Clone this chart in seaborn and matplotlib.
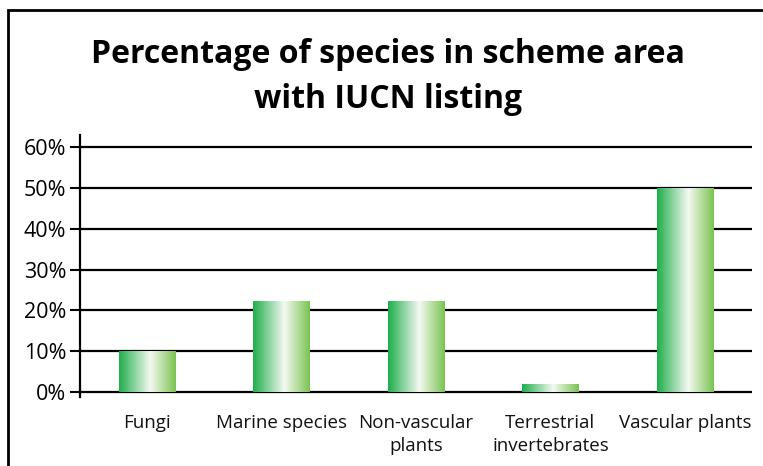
import numpy as np
import pandas as pd
import matplotlib
matplotlib.use("Agg")
import matplotlib.pyplot as plt
import seaborn as sns
from matplotlib.colors import LinearSegmentedColormap
from matplotlib.patches import Rectangle

categories = ["Fungi", "Marine species", "Non-vascular\nplants",
              "Terrestrial\ninvertebrates", "Vascular plants"]
values = [0.10, 0.223, 0.223, 0.02, 0.50]
yticks = [0.0, 0.1, 0.2, 0.3, 0.4, 0.5, 0.6]
ytick_labels = ["0%", "10%", "20%", "30%", "40%", "50%", "60%"]
title = "Percentage of species in scheme area\nwith IUCN listing"

sns.set_theme(style="white")
plt.rcParams["font.family"] = ["Open Sans", "DejaVu Sans"]

W, H = 763, 466
fig = plt.figure(figsize=(W / 100, H / 100), dpi=100)

# outer frame (left and top edges visible)
fig.patches.append(Rectangle((8 / W, -0.1), 1.2, (H - 10) / H + 0.1,
                             transform=fig.transFigure, fill=False,
                             edgecolor="black", linewidth=2))

ax = fig.add_axes([80 / W, (H - 397) / H, (752 - 80) / W, (397 - 135) / H])
df = pd.DataFrame({"cat": categories, "val": values})
sns.barplot(data=df, x="cat", y="val", ax=ax, width=0.42, color="#4cb848",
            saturation=1, zorder=3)

cmap = LinearSegmentedColormap.from_list(
    "g", [(0.0, "#1fae4b"), (0.55, "#f4f9f2"), (1.0, "#7bc351")])
grad = np.linspace(0, 1, 256).reshape(1, -1)
for p in list(ax.patches):
    x0, y0 = p.get_x(), p.get_y()
    w, h = p.get_width(), p.get_height()
    im = ax.imshow(grad, extent=[x0, x0 + w, y0, y0 + h], aspect="auto",
                   cmap=cmap, zorder=3, interpolation="bilinear")
    im.set_clip_path(p)
    p.set_facecolor("none")
    p.set_edgecolor("none")

ax.set_xlim(-0.5, 4.5)
ax.set_ylim(-0.012, 0.63)
for yv in yticks:
    ax.axhline(yv, color="black", linewidth=1.6, zorder=1)

ax.set_yticks(yticks)
ax.set_yticklabels(ytick_labels, fontsize=15.5)
ax.tick_params(axis="y", direction="out", length=7, width=1.5, pad=3,
               colors="black", left=True)
ax.tick_params(axis="x", length=0, pad=12, labelsize=13.5)
ax.set_xlabel("")
ax.set_ylabel("")
for s in ["top", "right", "bottom"]:
    ax.spines[s].set_visible(False)
ax.spines["left"].set_color("black")
ax.spines["left"].set_linewidth(1.6)
ax.spines["left"].set_zorder(4)
for lbl in ax.get_xticklabels():
    lbl.set_color("#111111")
    lbl.set_linespacing(1.35)

fig.text(388 / W, 1 - 77 / H, title, ha="center", va="center",
         fontsize=23, fontweight="bold", color="black", linespacing=1.45)

fig.savefig("out.png", dpi=100, facecolor="white")
